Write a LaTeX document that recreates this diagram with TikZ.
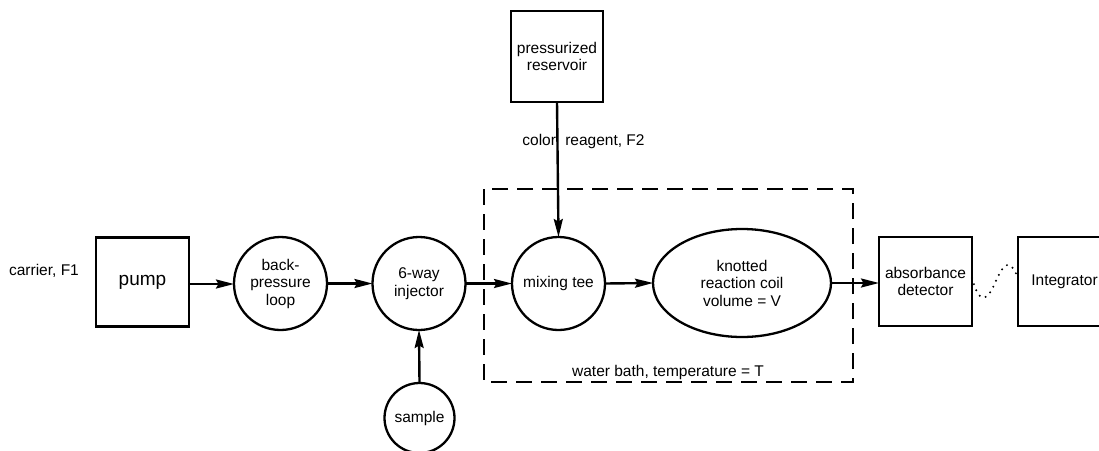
\documentclass[tikz,border=0pt]{standalone}
\usepackage{fontspec}
\setmainfont{Liberation Sans}
\usetikzlibrary{arrows.meta,shapes.geometric}
\begin{document}
\begin{tikzpicture}[x=1pt,y=-1pt,
  every node/.style={font=\fontsize{15.5}{17.5}\selectfont, align=center, inner sep=0pt, outer sep=0pt},
  box/.style={draw, line width=2.3pt, minimum width=#1, minimum height=89pt},
  circ/.style={draw, circle, line width=2.3pt, minimum size=#1},
  flow/.style={line width=2.4pt, -{Stealth[length=18pt,width=9pt,inset=2.5pt]}},
  bath/.style={draw, line width=2.4pt, dash pattern=on 16pt off 9pt}
]
\useasboundingbox (0,0) rectangle (1099,450);
\clip (0,0) rectangle (1099,450);
% water bath
\draw[bath] (484,189) rectangle (853,382);
\node (bathlbl) at (668,372) {water bath, temperature = T};
% nodes
\node (carrier) at (44,271) {carrier, F1};
\node[box=93pt, font=\fontsize{19}{21}\selectfont] (pump) at (142.5,282) {pump};
\node[circ=93pt] (bpl) at (280.5,283.5) {back-\\pressure\\loop};
\node[circ=93pt] (inj) at (419,283.5) {6-way\\injector};
\node[circ=93pt] (tee) at (558.5,283.5) {mixing tee};
\node[draw, ellipse, line width=2.3pt, minimum width=178pt, minimum height=108pt] (coil) at (742,283) {knotted\\reaction coil\\volume = V};
\node[box=93pt] (det) at (925.5,281.5) {absorbance\\detector};
\node[box=93pt] (integ) at (1064.5,281.5) {Integrator};
\node[draw, line width=2.3pt, minimum width=92pt, minimum height=91pt] (res) at (557,56.5) {pressurized\\reservoir};
\node[circ=70pt] (sample) at (419.5,418) {sample};
\node (reag) at (583.5,141) {color\hspace{0.6em}reagent, F2};
% connectors
\draw[flow] (pump.east |- 0,284) -- (bpl.west |- 0,284);
\draw[flow] (bpl.east) -- (inj.west);
\draw[flow] (inj.east) -- (tee.west);
\draw[flow] (tee.east) -- (coil.west);
\draw[flow] (coil.east) -- (det.west |- coil.east);
\draw[flow] (res.south) -- (tee.north);
\draw[flow] (sample.north) -- (inj.south);
% dotted signal
\coordinate (w0) at (det.east |- 0,278);
\coordinate (w1) at (integ.west |- 0,278);
\draw[line width=2.2pt, line cap=round, dash pattern=on 0pt off 6.5pt]
  (w0) .. controls (978,300) and (985,306) .. (995,283)
       .. controls (1004,262) and (1010,258) .. (w1);
\end{tikzpicture}
\end{document}
